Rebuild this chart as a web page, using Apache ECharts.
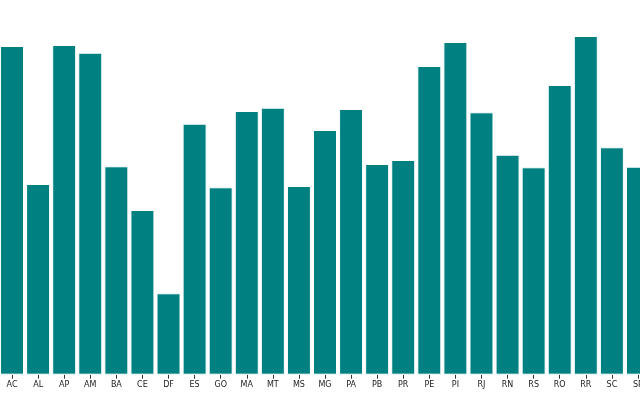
<!DOCTYPE html>
<html>
<head>
<meta charset="utf-8">
<script src="https://cdn.jsdelivr.net/npm/echarts@6/dist/echarts.min.js"></script>
<style>html,body{margin:0;padding:0;background:#fff;overflow:hidden;width:640px;height:400px}#c{position:absolute;left:-1px;top:0;width:652px;height:400px}</style>
</head>
<body>
<div id="c"></div>
<script>
const states = ['AC','AL','AP','AM','BA','CE','DF','ES','GO','MA','MT','MS','MG','PA','PB','PR','PE','PI','RJ','RN','RS','RO','RR','SC','SP'];
const values = [328.7,190.7,329.7,322,208.4,164.7,81.4,251,187.4,263.7,267,188.7,244.7,265.7,210.7,214.7,308.7,332.7,262.4,220,207.4,289.7,338.7,227.4,208];
const yMax = 374.7;

const chart = echarts.init(document.getElementById('c'), null, {renderer:'canvas'});
chart.setOption({
  animation:false,
  backgroundColor:'#ffffff',
  grid:{left:0, top:0, right:0, bottom:25.3, containLabel:false},
  xAxis:{
    type:'category', data:states,
    axisLine:{show:false},
    axisTick:{show:true, alignWithLabel:true, length:4, lineStyle:{color:'#333', width:1}},
    axisLabel:{interval:0, margin:6, fontSize:8, color:'#222', fontFamily:'DejaVu Sans'}
  },
  yAxis:{type:'value', min:0, max:yMax, show:false, splitLine:{show:false}},
  series:[{
    type:'bar', data:values, barWidth:'92%',
    itemStyle:{color:'#008080', borderColor:'#ffffff', borderWidth:1}
  }]
});
</script>
</body>
</html>
